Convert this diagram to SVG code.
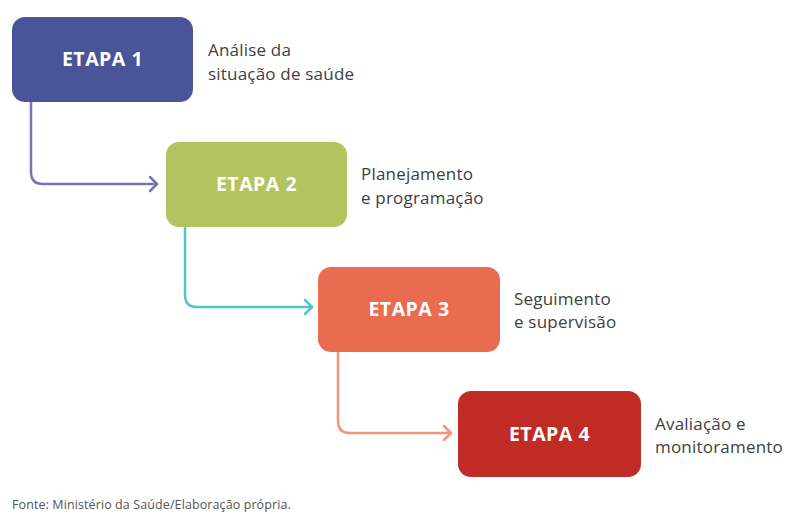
<svg xmlns="http://www.w3.org/2000/svg" width="788" height="514" viewBox="0 0 788 514">
<defs>
<style>
.box-t{font-family:"Open Sans",Lato,"Liberation Sans",sans-serif;font-weight:bold;font-size:19.5px;letter-spacing:0.5px;fill:#ffffff;text-anchor:middle}
.lbl{font-family:"Open Sans",Lato,"Liberation Sans",sans-serif;font-weight:500;font-size:17px;letter-spacing:0.2px;fill:#404040}
.conn{fill:none;stroke-width:2.5;stroke-linecap:round;stroke-linejoin:round}
.foot{font-family:"Open Sans",Lato,"Liberation Sans",sans-serif;font-size:12.5px;letter-spacing:0.1px;fill:#555555}
</style>
</defs>
<rect width="788" height="514" fill="#ffffff"/>
<g id="connectors">
<path class="conn" stroke="#7873b6" d="M31,102 V172 Q31,184 43,184 H157"/>
<path class="conn" stroke="#7873b6" d="M150,177 L157,184 L150,191"/>
<path class="conn" stroke="#4fc4ca" d="M185,227 V295 Q185,307 197,307 H312"/>
<path class="conn" stroke="#4fc4ca" d="M305,300 L312,307 L305,314"/>
<path class="conn" stroke="#f0947b" d="M338,352 V421 Q338,433 350,433 H451"/>
<path class="conn" stroke="#f0947b" d="M444,426 L451,433 L444,440"/>
</g>
<g id="etapa1">
<rect x="12" y="17" width="181" height="85" rx="13" fill="#4a5499"/>
<text class="box-t" x="102.5" y="66">ETAPA 1</text>
<text class="lbl" x="208" y="56">Análise da</text>
<text class="lbl" x="208" y="80">situação de saúde</text>
</g>
<g id="etapa2">
<rect x="166" y="142" width="181" height="85" rx="13" fill="#b2c35f"/>
<text class="box-t" x="256.5" y="191">ETAPA 2</text>
<text class="lbl" x="361" y="180">Planejamento</text>
<text class="lbl" x="361" y="204">e programação</text>
</g>
<g id="etapa3">
<rect x="318" y="267" width="182" height="85" rx="13" fill="#e96c50"/>
<text class="box-t" x="409" y="316">ETAPA 3</text>
<text class="lbl" x="514" y="305">Seguimento</text>
<text class="lbl" x="514" y="328">e supervisão</text>
</g>
<g id="etapa4">
<rect x="458" y="391" width="183" height="86" rx="13" fill="#c12b26"/>
<text class="box-t" x="549.5" y="441">ETAPA 4</text>
<text class="lbl" x="655" y="430">Avaliação e</text>
<text class="lbl" x="655" y="453">monitoramento</text>
</g>
<text class="foot" x="12" y="509">Fonte: Ministério da Saúde/Elaboração própria.</text>
</svg>
